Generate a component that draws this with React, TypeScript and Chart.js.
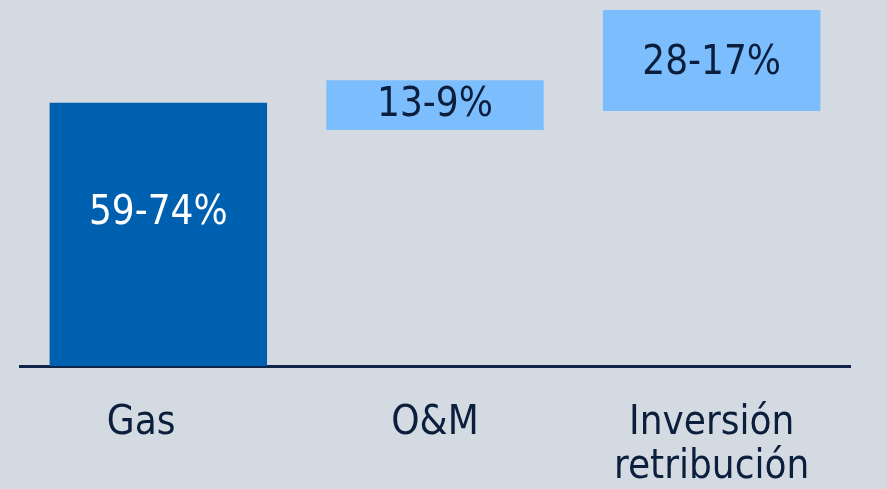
import React, { useEffect, useRef } from "react";
import { Chart, registerables } from "chart.js";

Chart.register(...registerables);

const categories: (string | string[])[] = ["Gas   ", "O&M", ["Inversión", "retribución"]];
const barStart = [0, 64.5, 69.7];
const barEnd = [71.9, 78.1, 97.3];
const barLabels = ["59-74%", "13-9%", "28-17%"];
const barColors = ["#0060b0", "#7cbdfd", "#7cbdfd"];
const labelColors = ["#ffffff", "#0b1f3d", "#0b1f3d"];

const FONT = "'DejaVu Sans Condensed', 'DejaVu Sans', sans-serif";
const BG = "#d3dae2";
const NAVY = "#0b1f3d";

const labelPlugin = {
  id: "barLabels",
  afterDatasetsDraw(chart: any) {
    const ctx = chart.ctx;
    const meta = chart.getDatasetMeta(0);
    const frac = [0.42, 0.52, 0.53];
    ctx.save();
    ctx.font = `40px ${FONT}`;
    ctx.textAlign = "center";
    ctx.textBaseline = "middle";
    meta.data.forEach((bar: any, i: number) => {
      const top = Math.min(bar.y, bar.base);
      const h = Math.abs(bar.base - bar.y);
      ctx.fillStyle = labelColors[i];
      ctx.fillText(barLabels[i], bar.x, top + h * frac[i]);
    });
    ctx.restore();
  },
};

export default function App() {
  const ref = useRef<HTMLCanvasElement>(null);
  useEffect(() => {
    document.body.style.margin = "0";
    document.body.style.background = BG;
    const chart = new Chart(ref.current!, {
      type: "bar",
      data: {
        labels: categories as any,
        datasets: [
          {
            data: barStart.map((s, i) => [s, barEnd[i]]) as any,
            backgroundColor: barColors,
            borderWidth: 0,
            barPercentage: 0.786,
            categoryPercentage: 1,
          },
        ],
      },
      options: {
        animation: false,
        responsive: false,
        maintainAspectRatio: false,
        layout: { padding: { left: 20, right: 37, top: 0, bottom: -37 } },
        plugins: { legend: { display: false }, tooltip: { enabled: false } },
        scales: {
          x: {
            grid: { display: false, drawTicks: false },
            border: { display: true, color: "#0f2548", width: 3 },
            ticks: {
              color: NAVY,
              font: { family: FONT, size: 40, lineHeight: 1.1 },
              padding: 36,
              maxRotation: 0,
              autoSkip: false,
            },
          },
          y: {
            display: false,
            min: 0,
            max: 100,
          },
        },
      },
      plugins: [labelPlugin],
    });
    return () => chart.destroy();
  }, []);
  return (
    <div style={{ width: 887, height: 489, background: BG }}>
      <canvas ref={ref} width={887} height={489} style={{ display: "block" }} />
    </div>
  );
}
